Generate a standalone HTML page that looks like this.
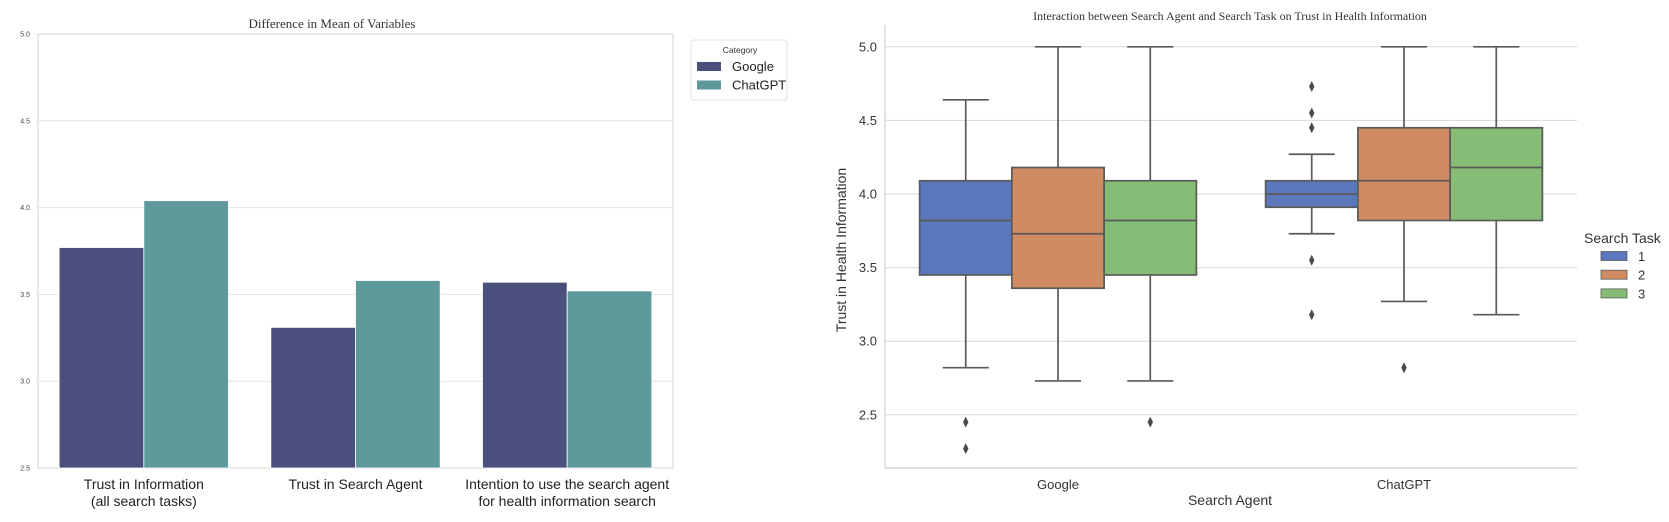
<!DOCTYPE html>
<html><head><meta charset="utf-8"><style>
html,body{margin:0;padding:0;background:#fff;}
svg{display:block;font-family:"Liberation Sans",sans-serif;}
</style></head><body>
<svg id="root" width="1669" height="522" viewBox="0 0 1669 522"></svg>
<script>
// Left chart data
const barCategories = ["Trust in Information|(all search tasks)", "Trust in Search Agent", "Intention to use the search agent|for health information search"];
const googleMeans = [3.77, 3.31, 3.57];
const chatgptMeans = [4.04, 3.58, 3.52];
const barTicks = [2.5, 3.0, 3.5, 4.0, 4.5, 5.0];
// Right chart data
const agents = ["Google", "ChatGPT"];
const tasks = ["1", "2", "3"];
const boxQ1 = [[3.45, 3.36, 3.45], [3.91, 3.82, 3.82]];
const boxMed = [[3.82, 3.73, 3.82], [4.0, 4.09, 4.18]];
const boxQ3 = [[4.09, 4.18, 4.09], [4.09, 4.45, 4.45]];
const whiskLo = [[2.82, 2.73, 2.73], [3.73, 3.27, 3.18]];
const whiskHi = [[4.64, 5.0, 5.0], [4.27, 5.0, 5.0]];
const outliers = [[[2.45, 2.27], [], [2.45]], [[4.73, 4.55, 4.45, 3.55, 3.18], [2.82], []]];
const boxTicks = [2.5, 3.0, 3.5, 4.0, 4.5, 5.0];

const NS = "http://www.w3.org/2000/svg";
const root = document.getElementById("root");
function mk(tag, attrs, parent, text) {
  const e = document.createElementNS(NS, tag);
  for (const k in attrs) e.setAttribute(k, attrs[k]);
  if (text !== undefined) e.textContent = text;
  (parent || root).appendChild(e);
  return e;
}

// ---------- Left chart ----------
const L = {x0: 38, x1: 673, y0: 468, y1: 34, vmin: 2.5, vmax: 5.0};
const ly = v => L.y0 - (v - L.vmin) / (L.vmax - L.vmin) * (L.y0 - L.y1);
const band = (L.x1 - L.x0) / barCategories.length;
const lg = mk("g", {});


barTicks.forEach(t => {
  const gl = mk("line", {x1: L.x0, x2: L.x1, y1: ly(t), y2: ly(t), stroke: "#e3e3e3", "stroke-width": 1}, lg);
  
  
  const tl = mk("text", {x: 30, y: ly(t) + 2.5, "text-anchor": "end", "font-size": 7, fill: "#444"}, lg, t.toFixed(1));
  
  
});
const lframe = mk("rect", {x: L.x0, y: L.y1, width: L.x1 - L.x0, height: L.y0 - L.y1, fill: "none", stroke: "#dcdcdc", "stroke-width": 1.2}, lg);


const bw = band * 0.4;
barCategories.forEach((c, i) => {
  const cx = L.x0 + band * (i + 0.5);
  const b1 = mk("rect", {x: cx - bw, y: ly(googleMeans[i]), width: bw, height: L.y0 - ly(googleMeans[i]), fill: "#4a4f7e", stroke: "#fff", "stroke-width": 0.8}, lg);
  
  
  const b2 = mk("rect", {x: cx, y: ly(chatgptMeans[i]), width: bw, height: L.y0 - ly(chatgptMeans[i]), fill: "#5e9a9c", stroke: "#fff", "stroke-width": 0.8}, lg);
  
  
  c.split("|").forEach((ln, j) => {
    const t = mk("text", {x: cx, y: 489 + j * 17, "text-anchor": "middle", "font-size": 14, fill: "#222"}, lg, ln);
    
    
  });
});
const lt = mk("text", {x: 332, y: 28, "text-anchor": "middle", "font-size": 13, fill: "#333", "font-family": "Liberation Serif, serif"}, lg, "Difference in Mean of Variables");


// legend
const leg = mk("g", {}, lg);


mk("rect", {x: 691, y: 40, width: 96, height: 60, rx: 3, fill: "#fff", stroke: "#e0e0e0"}, leg);
mk("text", {x: 740, y: 53, "text-anchor": "middle", "font-size": 8.5, fill: "#333"}, leg, "Category");
[["Google", "#4a4f7e"], ["ChatGPT", "#5e9a9c"]].forEach((e, i) => {
  const r = mk("rect", {x: 697, y: 62 + i * 18.5, width: 24, height: 9, fill: e[1]}, leg);
  
  
  const t = mk("text", {x: 732, y: 71 + i * 18.5, "font-size": 13, fill: "#222"}, leg, e[0]);
  
  
});

// ---------- Right chart ----------
const R = {x0: 885, x1: 1577, y50: 46.8, per: 147.2};
const ry = v => R.y50 + (5.0 - v) * R.per;
const rg = mk("g", {});


boxTicks.forEach(t => {
  const gl = mk("line", {x1: R.x0, x2: R.x1, y1: ry(t), y2: ry(t), stroke: "#d8d8d8", "stroke-width": 1}, rg);
  
  
  const tl = mk("text", {x: 877, y: ry(t) + 4.5, "text-anchor": "end", "font-size": 13, fill: "#333"}, rg, t.toFixed(1));
  
  
});
const ya = mk("line", {x1: R.x0, x2: R.x0, y1: 25, y2: 468, stroke: "#cfcfcf", "stroke-width": 1.2}, rg);


const xa = mk("line", {x1: R.x0, x2: R.x1, y1: 468, y2: 468, stroke: "#cfcfcf", "stroke-width": 1.2}, rg);


const taskColors = ["#5a78bb", "#cf8c62", "#85bd76"];
const rband = (R.x1 - R.x0) / agents.length;
const boxW = rband * 0.8 / tasks.length;
agents.forEach((a, i) => {
  const cx = R.x0 + rband * (i + 0.5);
  tasks.forEach((tk, j) => {
    const bx = cx - rband * 0.4 + boxW * j;
    const mx = bx + boxW / 2;
    const g = mk("g", {}, rg);
    
    
    const st = {stroke: "#5a5a5a", "stroke-width": 1.7};
    mk("line", Object.assign({x1: mx, x2: mx, y1: ry(whiskHi[i][j]), y2: ry(boxQ3[i][j])}, st), g);
    mk("line", Object.assign({x1: mx, x2: mx, y1: ry(boxQ1[i][j]), y2: ry(whiskLo[i][j])}, st), g);
    mk("line", Object.assign({x1: mx - boxW / 4, x2: mx + boxW / 4, y1: ry(whiskHi[i][j]), y2: ry(whiskHi[i][j])}, st), g);
    mk("line", Object.assign({x1: mx - boxW / 4, x2: mx + boxW / 4, y1: ry(whiskLo[i][j]), y2: ry(whiskLo[i][j])}, st), g);
    mk("rect", Object.assign({x: bx, y: ry(boxQ3[i][j]), width: boxW, height: ry(boxQ1[i][j]) - ry(boxQ3[i][j]), fill: taskColors[j]}, st), g);
    mk("line", Object.assign({x1: bx, x2: bx + boxW, y1: ry(boxMed[i][j]), y2: ry(boxMed[i][j])}, st), g);
    outliers[i][j].forEach(v => {
      const d = mk("path", {d: `M${mx},${ry(v) - 5.5} L${mx + 2.7},${ry(v)} L${mx},${ry(v) + 5.5} L${mx - 2.7},${ry(v)} Z`, fill: "#4a4a4a"}, g);
      
      
    });
  });
  const t = mk("text", {x: cx, y: 489, "text-anchor": "middle", "font-size": 13, fill: "#333"}, rg, a);
  
  
});
const xt = mk("text", {x: 1230, y: 505, "text-anchor": "middle", "font-size": 14, fill: "#333"}, rg, "Search Agent");


const yt = mk("text", {x: 0, y: 0, "text-anchor": "middle", "font-size": 14, fill: "#333", transform: "translate(846,250) rotate(-90)"}, rg, "Trust in Health Information");


const rt = mk("text", {x: 1230, y: 20, "text-anchor": "middle", "font-size": 12, fill: "#333", "font-family": "Liberation Serif, serif"}, rg, "Interaction between Search Agent and Search Task on Trust in Health Information");


const rl = mk("g", {}, rg);


mk("text", {x: 1584, y: 243, "font-size": 14, fill: "#333"}, rl, "Search Task");
tasks.forEach((tk, j) => {
  const r = mk("rect", {x: 1601, y: 251.5 + j * 18.7, width: 26, height: 9, fill: taskColors[j], stroke: "#5a5a5a", "stroke-width": 0.8}, rl);
  
  
  const t = mk("text", {x: 1638, y: 261 + j * 18.7, "font-size": 13, fill: "#333"}, rl, tk);
  
  
});
</script>
</body></html>
